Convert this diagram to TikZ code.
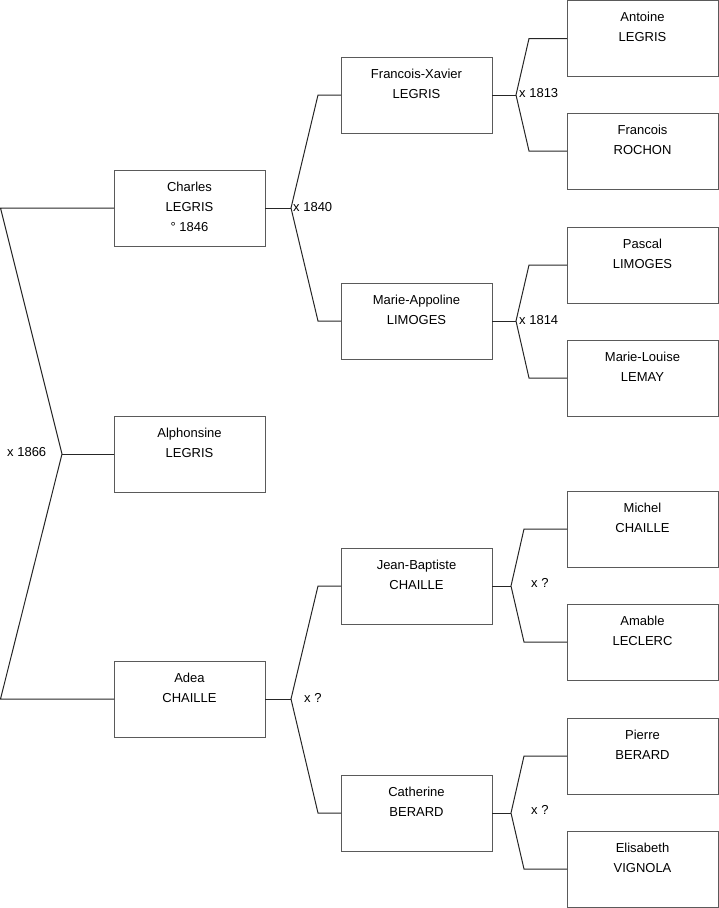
\documentclass[tikz,border=0pt]{standalone}
\usepackage{fontspec}
\setmainfont{Liberation Sans}
\definecolor{boxgray}{HTML}{5A5A5A}
\begin{document}
\begin{tikzpicture}[x=1pt,y=-1pt,
  pbox/.style={draw=boxgray, line width=1pt, minimum width=151pt, minimum height=76pt, inner sep=0pt, outer sep=0pt},
  ptext/.style={anchor=north, align=center, inner sep=0pt, font=\fontsize{13}{20}\selectfont},
  lbl/.style={anchor=west, inner sep=0pt, font=\fontsize{13}{16}\selectfont},
  link/.style={line width=1pt, draw=black!85}]
\useasboundingbox (0,0) rectangle (719,908);
\newcommand{\person}[4]{%
  \node[pbox] (#1) at (#2,#3) {};
  \node[ptext] (#1-t) at ([yshift=-11.4pt]#1.north) {#4};}
% column 1
\person{charles}{189.5}{208}{Charles\\LEGRIS\\° 1846}
\person{alph}{189.5}{454}{Alphonsine\\LEGRIS}
\person{adea}{189.5}{699}{Adea\\CHAILLE}
% column 2
\person{fx}{416.5}{95}{Francois-Xavier\\LEGRIS}
\person{ma}{416.5}{321}{Marie-Appoline\\LIMOGES}
\person{jb}{416.5}{586}{Jean-Baptiste\\CHAILLE}
\person{cb}{416.5}{813}{Catherine\\BERARD}
% column 3
\person{antoine}{642.5}{38.5}{Antoine\\LEGRIS}
\person{francois}{642.5}{151}{Francois\\ROCHON}
\person{pascal}{642.5}{265}{Pascal\\LIMOGES}
\person{ml}{642.5}{378}{Marie-Louise\\LEMAY}
\person{michel}{642.5}{529}{Michel\\CHAILLE}
\person{amable}{642.5}{642}{Amable\\LECLERC}
\person{pierre}{642.5}{756}{Pierre\\BERARD}
\person{elis}{642.5}{869}{Elisabeth\\VIGNOLA}
% forks
\coordinate (f0) at (62,454);
\coordinate (f1) at (291,208);
\coordinate (f2) at (291,699);
\coordinate (f3) at (516,95);
\coordinate (f4) at (516,321);
\coordinate (f5) at (511,586);
\coordinate (f6) at (511,813);
\draw[link] (charles.west) -- (0.5,208) -- (f0) -- (0.5,699) -- (adea.west);
\draw[link] (f0) -- (alph.west);
\draw[link] (charles.east) -- (f1);
\draw[link] (fx.west) -- (318,95) -- (f1) -- (318,321) -- (ma.west);
\draw[link] (adea.east) -- (f2);
\draw[link] (jb.west) -- (318,586) -- (f2) -- (318,813) -- (cb.west);
\draw[link] (fx.east) -- (f3);
\draw[link] (antoine.west) -- (529,38.5) -- (f3) -- (529,151) -- (francois.west);
\draw[link] (ma.east) -- (f4);
\draw[link] (pascal.west) -- (529,265) -- (f4) -- (529,378) -- (ml.west);
\draw[link] (jb.east) -- (f5);
\draw[link] (michel.west) -- (524,529) -- (f5) -- (524,642) -- (amable.west);
\draw[link] (cb.east) -- (f6);
\draw[link] (pierre.west) -- (524,756) -- (f6) -- (524,869) -- (elis.west);
% marriage labels
\node[lbl] (m0) at (7,452) {x 1866};
\node[lbl] (m1) at (293,207) {x 1840};
\node[lbl] (m2) at (304,698) {x ?};
\node[lbl] (m3) at (519,93) {x 1813};
\node[lbl] (m4) at (519,320) {x 1814};
\node[lbl] (m5) at (531,583) {x ?};
\node[lbl] (m6) at (531,810) {x ?};
\end{tikzpicture}
\end{document}
